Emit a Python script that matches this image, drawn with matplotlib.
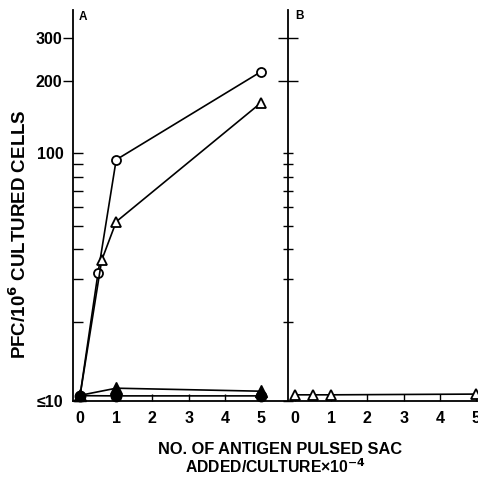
import matplotlib
matplotlib.use("Agg")
import matplotlib.pyplot as plt
from matplotlib.ticker import FixedLocator, FixedFormatter, NullFormatter

plt.rcParams['font.family'] = ['Liberation Sans', 'DejaVu Sans']
plt.rcParams['font.weight'] = 'bold'

# ---- data ----
a_open_circle_x = [0, 0.5, 1, 5]
a_open_circle_y = [9.85, 32, 94, 218]
a_open_tri_x = [0, 0.6, 1, 5]
a_open_tri_y = [9.85, 36, 52, 162]
a_filled_tri_x = [0, 1, 5]
a_filled_tri_y = [9.9, 10.6, 10.3]
a_filled_circle_x = [0, 1, 5]
a_filled_circle_y = [9.87, 9.85, 9.85]
b_open_tri_x = [0, 0.5, 1, 5]
b_open_tri_y = [9.95, 9.95, 9.95, 10.02]

x_ticks = [0, 1, 2, 3, 4, 5]
x_tick_labels = ['0', '1', '2', '3', '4', '5']
y_major = [200, 300]
y_minor = [9.38, 20, 30, 40, 50, 60, 70, 80, 90, 100]
y_minor_labels = ['\u226410', '', '', '', '', '', '', '', '', '100']

W = 478
fig = plt.figure(figsize=(4.78, 4.78), dpi=100)
bottom = 1 - 401 / W
height = (401 - 10) / W
width = (288 - 73) / W
axA = fig.add_axes([73 / W, bottom, width, height])
axB = fig.add_axes([288 / W, bottom, width, height])

ylim = (9.38, 393)
xlim = (-0.193, 5.746)
lw = 1.2
tfs = 11.5
for ax in (axA, axB):
    ax.set_yscale('log')
    ax.set_ylim(*ylim)
    ax.set_xlim(*xlim)
    ax.patch.set_alpha(0)
    for s in ('top', 'right'):
        ax.spines[s].set_visible(False)
    for s in ('left', 'bottom'):
        ax.spines[s].set_linewidth(1.3)
    ax.xaxis.set_major_locator(FixedLocator(x_ticks))
    ax.xaxis.set_ticklabels(x_tick_labels)
    ax.xaxis.set_minor_locator(FixedLocator([]))
    ax.tick_params(axis='x', direction='in', length=5, width=1.0, pad=7,
                   labelsize=tfs)
    ax.yaxis.set_major_locator(FixedLocator(y_major))
    ax.yaxis.set_minor_locator(FixedLocator(y_minor))

# Panel A y ticks
axA.yaxis.set_major_formatter(FixedFormatter([str(v) for v in y_major]))
axA.yaxis.set_minor_formatter(FixedFormatter(y_minor_labels))
axA.tick_params(axis='y', which='major', direction='out', length=7, width=1.0,
                pad=1, labelsize=tfs)
axA.tick_params(axis='y', which='minor', direction='in', length=7, width=1.0,
                pad=7, labelsize=tfs)

# Panel B y ticks (crossing)
axB.yaxis.set_major_formatter(NullFormatter())
axB.yaxis.set_minor_formatter(NullFormatter())
axB.tick_params(axis='y', which='major', direction='inout', length=15, width=1.0)
axB.tick_params(axis='y', which='minor', direction='inout', length=7, width=1.0)

mk = dict(color='black', lw=lw, clip_on=False, zorder=3)
axA.plot(a_open_circle_x, a_open_circle_y, marker='o', ms=6.5, mfc='white',
         mec='black', mew=1.3, **mk)
axA.plot(a_open_tri_x, a_open_tri_y, marker='^', ms=6.5, mfc='white',
         mec='black', mew=1.3, **mk)
axA.plot(a_filled_tri_x, a_filled_tri_y, marker='^', ms=8, mfc='black',
         mec='black', **mk)
axA.plot(a_filled_circle_x, a_filled_circle_y, marker='o', ms=7.5, mfc='black',
         mec='black', **mk)
axB.plot(b_open_tri_x, b_open_tri_y, marker='^', ms=6.5, mfc='white',
         mec='black', mew=1.3, **mk)

fig.text(83 / W, 1 - 17 / W, 'A', fontsize=8.5, fontweight='bold', ha='center', va='center')
fig.text(299 / W, 1 - 16 / W, 'B', fontsize=8.5, fontweight='bold', ha='center', va='center')

fig.text(19 / W, 1 - 234 / W, 'PFC/10$^{\\mathbf{6}}$ CULTURED CELLS', rotation=90,
         fontsize=13.5, fontweight='bold', ha='center', va='center')
fig.text(280 / W, 1 - 449 / W, 'NO. OF ANTIGEN PULSED SAC', fontsize=11.8,
         fontweight='bold', ha='center', va='center')
fig.text(275 / W, 1 - 467 / W, 'ADDED/CULTURE\u00d710$^{\\mathbf{-4}}$', fontsize=11.3,
         fontweight='bold', ha='center', va='center')

fig.savefig('out.png', dpi=100)
